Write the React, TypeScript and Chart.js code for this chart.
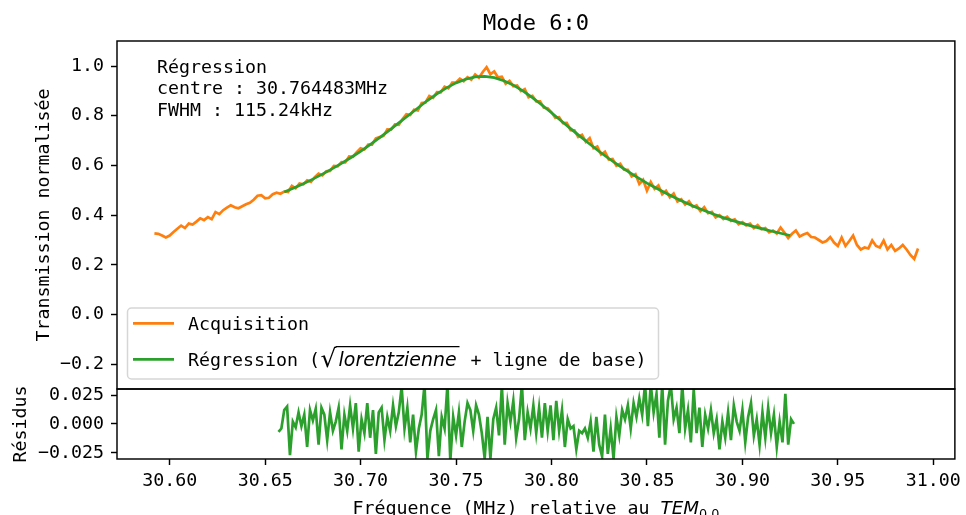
import React, { useEffect, useRef } from "react";
import { Chart, registerables } from "chart.js";

Chart.register(...registerables);

// ---------- text ----------
const TITLE = "Mode 6:0";
const Y_LABEL = "Transmission normalisée";
const RES_LABEL = "Résidus";
const X_LABEL = "Fréquence (MHz) relative au ";
const X_LABEL_MATH = "TEM";
const X_LABEL_SUB = "0,0";
const ANNOTATION = ["Régression", "centre : 30.764483MHz", "FWHM : 115.24kHz"];
const LEGEND_ACQ = "Acquisition";
const LEGEND_FIT_PRE = "Régression (";
const LEGEND_FIT_ROOT = "√";
const LEGEND_FIT_MATH = "lorentzienne";
const LEGEND_FIT_POST = " + ligne de base)";

// ---------- axes ----------
const X_TICKS = [30.6, 30.65, 30.7, 30.75, 30.8, 30.85, 30.9, 30.95, 31.0];
const Y_TICKS = [-0.2, 0, 0.2, 0.4, 0.6, 0.8, 1.0];
const RES_TICKS = [-0.025, 0, 0.025];
const X_MIN = 30.5724;
const X_MAX = 31.0113;
const Y_MIN = -0.2994;
const Y_MAX = 1.1006;
const RES_MIN = -0.0304;
const RES_MAX = 0.0302;

// ---------- data ----------
// Acquisition: uniformly sampled from ACQ_START with step ACQ_STEP (MHz)
const ACQ_START = 30.592;
const ACQ_STEP = 0.002;
const ACQUISITION = [
  0.327, 0.325, 0.318, 0.310, 0.318, 0.332, 0.345, 0.358, 0.348, 0.366,
  0.362, 0.374, 0.387, 0.380, 0.392, 0.384, 0.412, 0.404, 0.420, 0.430,
  0.440, 0.432, 0.428, 0.436, 0.444, 0.450, 0.462, 0.478, 0.480, 0.468,
  0.470, 0.484, 0.490, 0.486,
  0.495, 0.493, 0.518, 0.508, 0.527, 0.524, 0.540, 0.534, 0.553, 0.567,
  0.560, 0.576, 0.578, 0.598, 0.596, 0.613, 0.612, 0.636, 0.635, 0.653,
  0.669, 0.664, 0.684, 0.684, 0.709, 0.714, 0.719, 0.745, 0.744, 0.765,
  0.763, 0.787, 0.806, 0.803, 0.824, 0.821, 0.851, 0.853, 0.879, 0.872,
  0.895, 0.894, 0.917, 0.910, 0.933, 0.934, 0.949, 0.939, 0.955, 0.945,
  0.966, 0.953, 0.976, 0.995, 0.967, 0.978, 0.954, 0.957, 0.929, 0.940,
  0.919, 0.922, 0.899, 0.907, 0.874, 0.880, 0.858, 0.858, 0.832, 0.830,
  0.814, 0.792, 0.794, 0.770, 0.771, 0.742, 0.741, 0.715, 0.723, 0.695,
  0.710, 0.669, 0.676, 0.644, 0.655, 0.624, 0.626, 0.599, 0.607, 0.583,
  0.582, 0.556, 0.565, 0.525, 0.542, 0.499, 0.533, 0.506, 0.519, 0.484,
  0.498, 0.472, 0.487, 0.455, 0.464, 0.443, 0.456, 0.433, 0.439, 0.416,
  0.432, 0.408, 0.413, 0.391, 0.400, 0.384, 0.394, 0.377, 0.383, 0.363,
  0.372, 0.359, 0.366, 0.348, 0.360, 0.343, 0.348, 0.331, 0.338, 0.326,
  0.350, 0.330, 0.308, 0.325,
  0.338, 0.314, 0.322, 0.328, 0.312, 0.310, 0.300, 0.290, 0.296, 0.312,
  0.290, 0.276, 0.310, 0.276, 0.296, 0.318, 0.280, 0.262, 0.270, 0.266,
  0.298, 0.276, 0.270, 0.298, 0.262, 0.280, 0.256, 0.266, 0.280, 0.262,
  0.240, 0.224, 0.266,
];

// Fitted curve (sqrt lorentzian + baseline)
const FIT_START = 30.66;
const FIT_STEP = 0.005;
const FIT = [
  0.493, 0.509, 0.526, 0.545, 0.565, 0.586, 0.608, 0.632, 0.657, 0.684,
  0.712, 0.741, 0.771, 0.801, 0.831, 0.861, 0.888, 0.912, 0.932, 0.947,
  0.956, 0.958, 0.953, 0.941, 0.923, 0.900, 0.873, 0.843, 0.812, 0.780,
  0.748, 0.717, 0.686, 0.656, 0.628, 0.601, 0.576, 0.552, 0.529, 0.508,
  0.488, 0.469, 0.451, 0.434, 0.419, 0.404, 0.390, 0.378, 0.367, 0.356,
  0.346, 0.336, 0.327, 0.318,
];

// Residuals
const RES_START = 30.657;
const RES_STEP = 0.0015;
const RESIDUALS = [
  -0.007, -0.004, 0.012, 0.015, -0.027, 0.002, -0.003, 0.010, -0.002, 0.008,
  -0.020, 0.012, 0.003, 0.013, -0.018, 0.014, 0.008, -0.014, 0.010, -0.006,
  0.002, 0.014, -0.022, 0.008, -0.006, 0.016, -0.004, 0.018, -0.024, 0.004,
  -0.008, 0.018, -0.012, 0.012, -0.026, 0.010, 0.014, -0.014, 0.006, -0.006,
  0.016, -0.002, 0.010, 0.032, -0.004, 0.014, -0.016, 0.008, -0.024, -0.004,
  0.008, 0.034, -0.030, -0.006, 0.004, 0.012, -0.028, 0.006, -0.004, 0.034,
  -0.032, 0.006, -0.010, 0.010, -0.020, 0.002, 0.018, 0.012, -0.006, 0.016,
  0.008, -0.008, -0.030, 0.006, -0.030, 0.004, 0.014, -0.010, 0.033, -0.018,
  0.018, 0.002, 0.020, -0.012, 0.004, 0.034, -0.014, 0.010, -0.004, 0.016,
  -0.008, 0.014, -0.012, 0.018, -0.006, 0.016, -0.014, 0.020, -0.006, 0.012,
  -0.020, 0.004, -0.004, -0.002, -0.022, -0.006, -0.008, -0.004, -0.012, 0.002,
  -0.024, 0.006, -0.018, -0.028, 0.008, -0.026, -0.004, -0.030, 0.006, -0.010,
  0.012, 0.004, 0.016, -0.004, 0.018, 0.006, 0.022, 0.008, 0.034, -0.002,
  0.034, 0.010, 0.026, -0.012, 0.034, -0.018, 0.020, 0.034, 0.004, 0.014,
  -0.008, 0.034, -0.004, 0.012, -0.016, 0.030, -0.008, 0.014, -0.020, 0.008,
  -0.004, 0.012, -0.008, 0.004, -0.022, 0.002, -0.012, 0.010, -0.014, 0.016,
  0.002, -0.006, 0.012, -0.016, 0.006, 0.018, -0.010, 0.004, -0.018, 0.010,
  -0.012, 0.014, -0.008, 0.008, -0.020, 0.002, -0.016, 0.026, -0.018, 0.004,
  0.000,
];

const ORANGE = "#ff7f0e";
const GREEN = "#2ca02c";
const MONO = '"DejaVu Sans Mono", monospace';
const SANS = '"DejaVu Sans", sans-serif';
const FS = 18.3;

const toPoints = (start: number, step: number, values: number[]) =>
  values.map((v, i) => ({ x: start + i * step, y: v }));

const fmt = (v: number, d: number) => {
  const s = Math.abs(v).toFixed(d);
  return v < -1e-9 ? "\u2212" + s : s;
};

const decorations = {
  id: "decorations",
  afterDatasetsDraw(chart: any) {
    const ctx = chart.ctx as CanvasRenderingContext2D;
    ctx.save();
    // legend box
    const bx = 127.5, by = 308, bw = 531, bh = 71, r = 4;
    ctx.beginPath();
    ctx.moveTo(bx + r, by);
    ctx.lineTo(bx + bw - r, by);
    ctx.arcTo(bx + bw, by, bx + bw, by + r, r);
    ctx.lineTo(bx + bw, by + bh - r);
    ctx.arcTo(bx + bw, by + bh, bx + bw - r, by + bh, r);
    ctx.lineTo(bx + r, by + bh);
    ctx.arcTo(bx, by + bh, bx, by + bh - r, r);
    ctx.lineTo(bx, by + r);
    ctx.arcTo(bx, by, bx + r, by, r);
    ctx.closePath();
    ctx.fillStyle = "rgba(255,255,255,0.8)";
    ctx.fill();
    ctx.strokeStyle = "rgba(204,204,204,0.8)";
    ctx.lineWidth = 1.5;
    ctx.stroke();

    // entries
    ctx.lineWidth = 2.7;
    ctx.lineCap = "butt";
    ctx.strokeStyle = ORANGE;
    ctx.beginPath();
    ctx.moveTo(133, 323.3);
    ctx.lineTo(174, 323.3);
    ctx.stroke();
    ctx.strokeStyle = GREEN;
    ctx.beginPath();
    ctx.moveTo(133, 359.3);
    ctx.lineTo(174, 359.3);
    ctx.stroke();

    ctx.fillStyle = "#000";
    ctx.textAlign = "left";
    ctx.textBaseline = "alphabetic";
    ctx.font = `${FS}px ${MONO}`;
    ctx.fillText(LEGEND_ACQ, 188, 330);

    let cx = 188;
    const base = 366;
    ctx.font = `${FS}px ${MONO}`;
    ctx.fillText(LEGEND_FIT_PRE, cx, base);
    cx += ctx.measureText(LEGEND_FIT_PRE).width;
    // radical sized so that its top reaches the overline
    ctx.font = `${FS}px ${SANS}`;
    const m0 = ctx.measureText(LEGEND_FIT_ROOT);
    const asc0 = m0.actualBoundingBoxAscent || FS * 0.8;
    const rootSize = (FS * 20.5) / asc0;
    ctx.font = `${rootSize}px ${SANS}`;
    const m1 = ctx.measureText(LEGEND_FIT_ROOT);
    const rootLeft = cx + 0.5 + (m1.actualBoundingBoxLeft || 0);
    ctx.fillText(LEGEND_FIT_ROOT, rootLeft, base + 1);
    const rootRight = rootLeft + (m1.actualBoundingBoxRight || m1.width);
    const overY = base + 1 - (m1.actualBoundingBoxAscent || 20.5) + 0.6;
    cx = rootRight + 2;
    ctx.font = `italic ${FS + 0.6}px ${SANS}`;
    ctx.fillText(LEGEND_FIT_MATH, cx, base);
    cx += ctx.measureText(LEGEND_FIT_MATH).width + 3;
    ctx.strokeStyle = "#000";
    ctx.lineWidth = 1.3;
    ctx.beginPath();
    ctx.moveTo(rootRight - 1, overY);
    ctx.lineTo(cx, overY);
    ctx.stroke();
    ctx.font = `${FS}px ${MONO}`;
    ctx.fillText(LEGEND_FIT_POST, cx, base);
    ctx.restore();
  },
  afterDraw(chart: any) {
    const ctx = chart.ctx as CanvasRenderingContext2D;
    const { x, y, y2 } = chart.scales;
    ctx.save();
    // frames
    ctx.strokeStyle = "#000";
    ctx.lineWidth = 1.45;
    ctx.strokeRect(x.left, y.top, x.right - x.left, y.bottom - y.top);
    ctx.strokeRect(x.left, y2.top, x.right - x.left, y2.bottom - y2.top);

    const midX = (x.left + x.right) / 2;
    ctx.fillStyle = "#000";
    // title
    ctx.font = `22px ${MONO}`;
    ctx.textAlign = "center";
    ctx.textBaseline = "alphabetic";
    ctx.fillText(TITLE, midX, 30);

    // annotation
    ctx.font = `${FS}px ${MONO}`;
    ctx.textAlign = "left";
    const baselines = [72.7, 94.3, 115.8];
    ANNOTATION.forEach((t, i) => ctx.fillText(t, 157, baselines[i]));

    // y labels
    ctx.save();
    ctx.translate(48.5, (y.top + y.bottom) / 2);
    ctx.rotate(-Math.PI / 2);
    ctx.textAlign = "center";
    ctx.fillText(Y_LABEL, 0, 0);
    ctx.restore();
    ctx.save();
    ctx.translate(26, (y2.top + y2.bottom) / 2);
    ctx.rotate(-Math.PI / 2);
    ctx.textAlign = "center";
    ctx.fillText(RES_LABEL, 0, 0);
    ctx.restore();

    // x label with math part
    ctx.font = `${FS}px ${MONO}`;
    const w1 = ctx.measureText(X_LABEL).width;
    ctx.font = `italic ${FS}px ${SANS}`;
    const w2 = ctx.measureText(X_LABEL_MATH).width;
    ctx.font = `${FS * 0.7}px ${SANS}`;
    const w3 = ctx.measureText(X_LABEL_SUB).width;
    let sx = midX - (w1 + w2 + w3) / 2;
    const xb = 513.5;
    ctx.textAlign = "left";
    ctx.font = `${FS}px ${MONO}`;
    ctx.fillText(X_LABEL, sx, xb);
    sx += w1;
    ctx.font = `italic ${FS}px ${SANS}`;
    ctx.fillText(X_LABEL_MATH, sx, xb);
    sx += w2;
    ctx.font = `${FS * 0.7}px ${SANS}`;
    ctx.fillText(X_LABEL_SUB, sx, xb + 4);
    ctx.restore();
  },
};

export default function App() {
  const ref = useRef<HTMLCanvasElement | null>(null);
  useEffect(() => {
    document.body.style.margin = "0";
    const canvas = ref.current;
    if (!canvas) return;
    const tickFont = { family: MONO, size: FS };
    const gridOpts = {
      drawOnChartArea: false,
      drawTicks: true,
      tickLength: 6,
      tickWidth: 1.45,
      tickColor: "#000",
      color: "#000",
    };
    const chart = new Chart(canvas, {
      type: "line",
      data: {
        datasets: [
          {
            label: "Régression",
            data: toPoints(FIT_START, FIT_STEP, FIT),
            borderColor: GREEN,
            borderWidth: 2.7,
            pointRadius: 0,
            yAxisID: "y",
            order: 0,
          },
          {
            label: "Acquisition",
            data: toPoints(ACQ_START, ACQ_STEP, ACQUISITION),
            borderColor: ORANGE,
            borderWidth: 2.7,
            pointRadius: 0,
            yAxisID: "y",
            order: 1,
          },
          {
            label: "Résidus",
            data: toPoints(RES_START, RES_STEP, RESIDUALS),
            borderColor: GREEN,
            borderWidth: 2.7,
            pointRadius: 0,
            yAxisID: "y2",
            order: 2,
            clip: 0,
          },
        ],
      },
      options: {
        responsive: false,
        animation: false,
        events: [],
        layout: { padding: { left: 0, right: 7, top: 41, bottom: 0 } },
        plugins: {
          legend: { display: false },
          tooltip: { enabled: false },
          title: { display: false },
        },
        scales: {
          x: {
            type: "linear",
            min: X_MIN,
            max: X_MAX,
            afterBuildTicks: (s: any) => {
              s.ticks = X_TICKS.map((v) => ({ value: v }));
            },
            afterFit: (s: any) => {
              s.height = 56;
            },
            ticks: {
              font: tickFont,
              color: "#000",
              padding: 5,
              maxRotation: 0,
              autoSkip: false,
              callback: (v: any) => fmt(Number(v), 2),
            },
            grid: gridOpts,
            border: { display: false },
          },
          y: {
            type: "linear",
            position: "left",
            stack: "v",
            stackWeight: 348,
            weight: 2,
            min: Y_MIN,
            max: Y_MAX,
            afterBuildTicks: (s: any) => {
              s.ticks = Y_TICKS.map((v) => ({ value: v }));
            },
            afterFit: (s: any) => {
              s.width = 117;
            },
            ticks: {
              font: tickFont,
              color: "#000",
              padding: 7,
              autoSkip: false,
              callback: (v: any) => fmt(Number(v), 1),
            },
            grid: gridOpts,
            border: { display: false },
          },
          y2: {
            type: "linear",
            position: "left",
            stack: "v",
            stackWeight: 70,
            weight: 1,
            min: RES_MIN,
            max: RES_MAX,
            afterBuildTicks: (s: any) => {
              s.ticks = RES_TICKS.map((v) => ({ value: v }));
            },
            afterFit: (s: any) => {
              s.width = 117;
            },
            ticks: {
              font: tickFont,
              color: "#000",
              padding: 7,
              autoSkip: false,
              callback: (v: any) => fmt(Number(v), 3),
            },
            grid: gridOpts,
            border: { display: false },
          },
        },
      } as any,
      plugins: [decorations],
    });
    return () => chart.destroy();
  }, []);
  return (
    <div style={{ position: "absolute", left: 0, top: 0, width: 966, height: 515 }}>
      <canvas ref={ref} width={966} height={515} />
    </div>
  );
}
